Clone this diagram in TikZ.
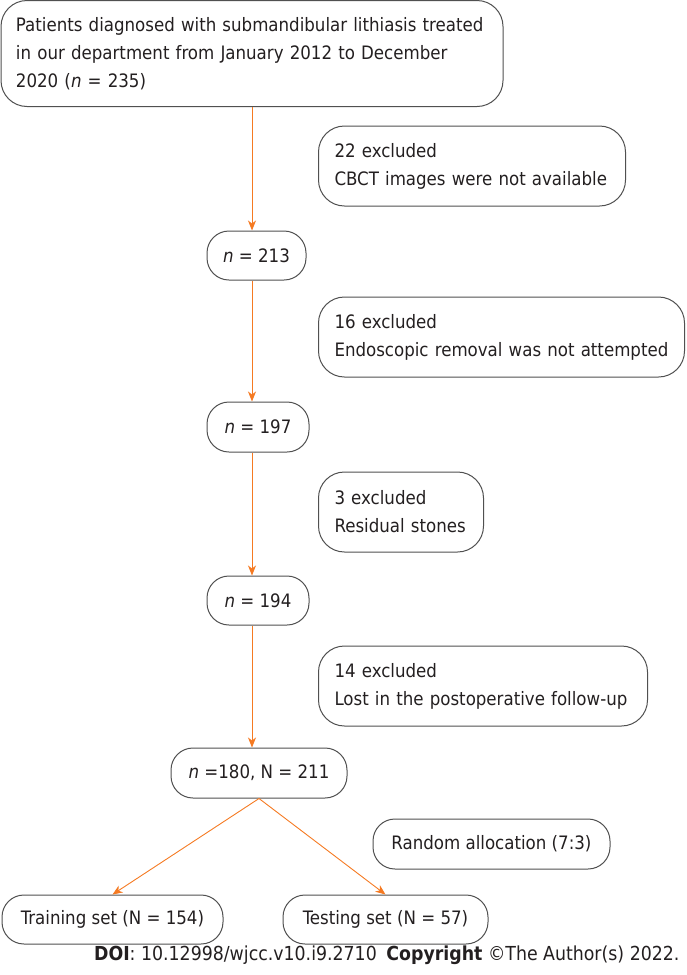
\documentclass[tikz,border=0pt]{standalone}
\usepackage{fontspec}
\setmainfont{DejaVu Sans Condensed}
\usetikzlibrary{arrows.meta}
\definecolor{flowline}{HTML}{F57A22}
\definecolor{boxline}{HTML}{505050}
\definecolor{ink}{HTML}{231F20}

\begin{document}
\begin{tikzpicture}[x=1pt, y=-1pt,
    every node/.style={text=ink, font=\fontsize{18.5}{28}\selectfont},
    pill/.style={draw=boxline, line width=1pt, rounded corners=22pt, minimum height=49pt, inner sep=0pt},
    note/.style={draw=boxline, line width=1pt, rounded corners=26pt, minimum height=80pt, anchor=west, align=left, inner xsep=16pt, inner ysep=0pt},
    flow/.style={draw=flowline, line width=1pt, -{Stealth[length=10pt,width=8pt,inset=3pt]}},
    split/.style={draw=flowline, line width=0.9pt, -{Stealth[length=10pt,width=8pt,inset=3pt]}}]
    \useasboundingbox (0,0) rectangle (686,975);

    \node [note, text width=472pt, minimum height=106pt, inner xsep=15pt] (start) at (0.5,53.5)
        {Patients diagnosed with submandibular lithiasis treated\\in our department from January 2012 to December\\2020 (\textit{n} = 235)};

    \node [note, text width=275pt] (ex1) at (318,166) {22 excluded\\CBCT images were not available};
    \node [pill, minimum width=99pt] (n213) at (256.5,255.5) {\textit{n} = 213};

    \node [note, text width=334pt] (ex2) at (318,337) {16 excluded\\Endoscopic removal was not attempted};
    \node [pill, minimum width=102pt, minimum height=50pt] (n197) at (258,427) {\textit{n} = 197};

    \node [note, text width=133pt] (ex3) at (318,512) {3 excluded\\Residual stones};
    \node [pill, minimum width=102pt] (n194) at (258,600.5) {\textit{n} = 194};

    \node [note, text width=297pt] (ex4) at (318,686) {14 excluded\\Lost in the postoperative follow-up};
    \node [pill, minimum width=176pt, minimum height=50pt] (n180) at (259,773) {\textit{n} =180, N = 211};

    \node [pill, minimum width=237pt, minimum height=50pt] (rand) at (491.5,844) {Random allocation (7:3)};
    \node [pill, minimum width=221pt] (train) at (112.5,919.5) {Training set (N = 154)};
    \node [pill, minimum width=205pt] (test) at (385.5,919.5) {Testing set (N = 57)};

    \draw [flow] (start.south) -- (start.south |- n213.north);
    \draw [flow] (n213.south -| start.south) -- (start.south |- n197.north);
    \draw [flow] (n197.south -| start.south) -- (start.south |- n194.north);
    \draw [flow] (n194.south -| start.south) -- (start.south |- n180.north);

    \draw [split] (n180.south) -- (train.north);
    \draw [split] (n180.south) -- (test.north);

    \node [anchor=base east, font=\fontsize{19.3}{22}\selectfont] (doi) at (683,960)
        {\textbf{DOI}: 10.12998/wjcc.v10.i9.2710\enspace\textbf{Copyright} ©The Author(s) 2022.};
\end{tikzpicture}
\end{document}
